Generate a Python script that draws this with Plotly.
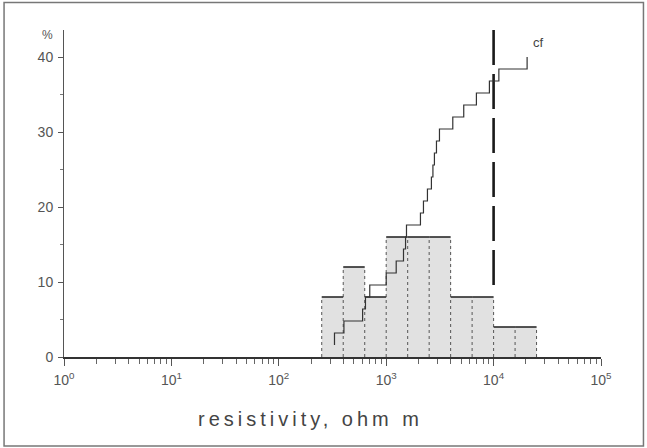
import plotly.graph_objects as go
import math

# ---- data ----
bin_edges = [251, 398, 631, 1000, 1585, 2512, 3981, 6310, 10000, 15849, 25119]  # ohm m
freq = [8, 12, 8, 16, 16, 16, 8, 8, 4, 4]  # %

cf_x = [330, 330, 404, 603, 641, 703, 1000, 1239, 1449, 1514, 1545, 2084, 2223,
        2421, 2636, 2723, 2812, 2938, 3133, 4169, 5272, 6918, 9141, 11194, 20512]
cf_y = [1.6, 3.2, 4.8, 6.4, 8.0, 9.6, 11.2, 12.8, 14.4, 16.0, 17.6, 19.2, 20.8,
        22.4, 24.0, 25.6, 27.2, 28.8, 30.4, 32.0, 33.6, 35.2, 36.8, 38.4, 40.0]

cutoff_x = 10000
cutoff_y = [43.6, 8.8]

x_tick_vals = [1, 10, 100, 1000, 10000, 100000]
x_tick_text = ["10<sup>0</sup>", "10<sup>1</sup>", "10<sup>2</sup>",
               "10<sup>3</sup>", "10<sup>4</sup>", "10<sup>5</sup>"]
y_tick_vals = [0, 10, 20, 30, 40]

W, H = 647, 448
ML, MR, MT, MB = 63.5, 46, 30, 91.3
YMAX = 43.6

fig = go.Figure()

# bar fills
for i, f in enumerate(freq):
    x0, x1 = bin_edges[i], bin_edges[i + 1]
    fig.add_trace(go.Scatter(x=[x0, x1, x1, x0, x0], y=[0, 0, f, f, 0],
                             mode="lines", fill="toself", fillcolor="#e1e1e1",
                             line=dict(width=0), hoverinfo="skip", showlegend=False))

# dotted vertical edges
vx, vy = [], []
for i, e in enumerate(bin_edges):
    left = freq[i - 1] if i > 0 else 0
    right = freq[i] if i < len(freq) else 0
    vx += [e, e, None]
    vy += [0, max(left, right), None]
fig.add_trace(go.Scatter(x=vx, y=vy, mode="lines",
                         line=dict(color="#555555", width=1, dash="dot"),
                         hoverinfo="skip", showlegend=False))

# solid bar tops
tx, ty = [], []
for i, f in enumerate(freq):
    tx += [bin_edges[i], bin_edges[i + 1], None]
    ty += [f, f, None]
fig.add_trace(go.Scatter(x=tx, y=ty, mode="lines",
                         line=dict(color="#2a2a2a", width=1.6),
                         hoverinfo="skip", showlegend=False))

# cutoff dashed line
fig.add_trace(go.Scatter(x=[cutoff_x, cutoff_x], y=cutoff_y, mode="lines",
                         line=dict(color="#1a1a1a", width=2.6, dash="35px,9px"),
                         hoverinfo="skip", showlegend=False))

# cumulative frequency
fig.add_trace(go.Scatter(x=cf_x, y=cf_y, mode="lines", line_shape="hv",
                         line=dict(color="#333333", width=1.2),
                         hoverinfo="skip", showlegend=False))

font_main = "Liberation Sans, Arial, sans-serif"

fig.update_layout(
    width=W, height=H, autosize=False,
    margin=dict(l=ML, r=MR, t=MT, b=MB, pad=0),
    paper_bgcolor="white", plot_bgcolor="white",
    showlegend=False,
    xaxis=dict(type="log", range=[0, 5], showgrid=False, zeroline=False,
               showline=True, linecolor="#333333", linewidth=1.5,
               ticks="outside", ticklen=7, tickwidth=1, tickcolor="#555555",
               tickvals=x_tick_vals, ticktext=x_tick_text,
               ticklabelstandoff=3,
               tickfont=dict(family=font_main, size=14, color="#555555"),
               minor=dict(dtick="D1", ticks="outside", ticklen=5,
                          tickcolor="#666666", showgrid=False)),
    yaxis=dict(range=[0, YMAX], showgrid=False, zeroline=False,
               showline=True, linecolor="#555555", linewidth=1,
               ticks="outside", ticklen=5, tickwidth=1, tickcolor="#555555",
               tickvals=y_tick_vals, ticklabelstandoff=2,
               tickfont=dict(family=font_main, size=14, color="#555555"),
               minor=dict(dtick=5, ticks="outside", ticklen=3,
                          tickcolor="#777777", showgrid=False)),
)

# axis title and labels
fig.add_annotation(xref="paper", yref="paper", x=(310.5 - ML) / (W - ML - MR),
                   y=(H - MB - 419) / (H - MT - MB),
                   text='<span style="letter-spacing:4px">resistivity, ohm m</span>',
                   showarrow=False, xanchor="center", yanchor="middle",
                   font=dict(family=font_main, size=20, color="#444444"))
fig.add_annotation(xref="paper", yref="y", x=(47 - ML) / (W - ML - MR), y=42.9,
                   text="%", showarrow=False, xanchor="center", yanchor="middle",
                   font=dict(family=font_main, size=12, color="#555555"))
fig.add_annotation(xref="x", yref="y", x=math.log10(26000), y=42.0,
                   text="cf", showarrow=False, xanchor="center", yanchor="middle",
                   font=dict(family=font_main, size=13, color="#444444"))

# outer frame
pw, ph = W - ML - MR, H - MT - MB
fig.add_shape(type="rect", xref="paper", yref="paper",
              x0=(3.5 - ML) / pw, x1=(643.5 - ML) / pw,
              y0=(H - MB - 445.5) / ph, y1=(H - MB - 2.5) / ph,
              line=dict(color="#777777", width=1.5), fillcolor="rgba(0,0,0,0)",
              layer="below")

fig.write_html("out.html",
               config={"displayModeBar": False, "staticPlot": True},
               post_script="document.body.style.margin='0';"
                           "document.body.style.overflow='hidden';")
